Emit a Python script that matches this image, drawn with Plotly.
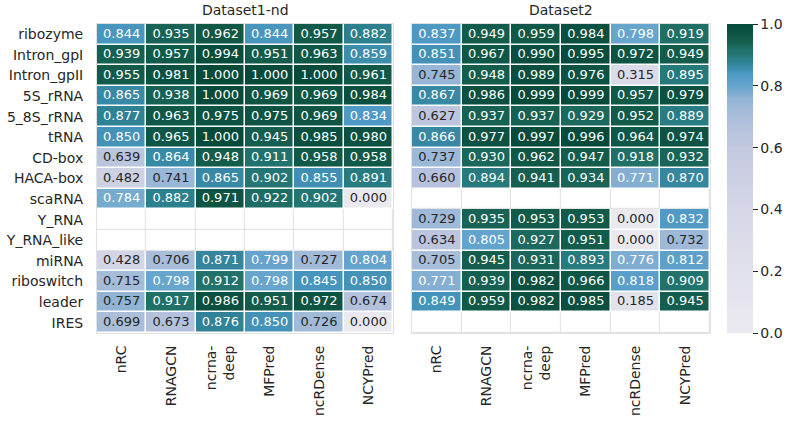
import numpy as np
import plotly.graph_objects as go

families = ["ribozyme", "Intron_gpI", "Intron_gpII", "5S_rRNA", "5_8S_rRNA", "tRNA",
            "CD-box", "HACA-box", "scaRNA", "Y_RNA", "Y_RNA_like", "miRNA",
            "riboswitch", "leader", "IRES"]
models = ["nRC", "RNAGCN", "ncrna-deep", "MFPred", "ncRDense", "NCYPred"]
model_labels = ["nRC", "RNAGCN", "ncrna-<br>deep", "MFPred", "ncRDense", "NCYPred"]
titles = ["Dataset1-nd", "Dataset2"]
N = None

dataset1 = [
    [0.844, 0.935, 0.962, 0.844, 0.957, 0.882],
    [0.939, 0.957, 0.994, 0.951, 0.963, 0.859],
    [0.955, 0.981, 1.000, 1.000, 1.000, 0.961],
    [0.865, 0.938, 1.000, 0.969, 0.969, 0.984],
    [0.877, 0.963, 0.975, 0.975, 0.969, 0.834],
    [0.850, 0.965, 1.000, 0.945, 0.985, 0.980],
    [0.639, 0.864, 0.948, 0.911, 0.958, 0.958],
    [0.482, 0.741, 0.865, 0.902, 0.855, 0.891],
    [0.784, 0.882, 0.971, 0.922, 0.902, 0.000],
    [N, N, N, N, N, N],
    [N, N, N, N, N, N],
    [0.428, 0.706, 0.871, 0.799, 0.727, 0.804],
    [0.715, 0.798, 0.912, 0.798, 0.845, 0.850],
    [0.757, 0.917, 0.986, 0.951, 0.972, 0.674],
    [0.699, 0.673, 0.876, 0.850, 0.726, 0.000],
]
dataset2 = [
    [0.837, 0.949, 0.959, 0.984, 0.798, 0.919],
    [0.851, 0.967, 0.990, 0.995, 0.972, 0.949],
    [0.745, 0.948, 0.989, 0.976, 0.315, 0.895],
    [0.867, 0.986, 0.999, 0.999, 0.957, 0.979],
    [0.627, 0.937, 0.937, 0.929, 0.952, 0.889],
    [0.866, 0.977, 0.997, 0.996, 0.964, 0.974],
    [0.737, 0.930, 0.962, 0.947, 0.918, 0.932],
    [0.660, 0.894, 0.941, 0.934, 0.771, 0.870],
    [N, N, N, N, N, N],
    [0.729, 0.935, 0.953, 0.953, 0.000, 0.832],
    [0.634, 0.805, 0.927, 0.951, 0.000, 0.732],
    [0.705, 0.945, 0.931, 0.893, 0.776, 0.812],
    [0.771, 0.939, 0.982, 0.966, 0.818, 0.909],
    [0.849, 0.959, 0.982, 0.985, 0.185, 0.945],
    [N, N, N, N, N, N],
]

colorscale = [
    [0.00, "#ebe9f0"], [0.20, "#e1e1ec"], [0.40, "#d5d7e7"], [0.50, "#ccd0e3"],
    [0.60, "#c2c9e0"], [0.67, "#b4c1dc"], [0.72, "#a3bbd9"], [0.76, "#90b3d4"],
    [0.78, "#7aabd0"], [0.80, "#66a4cd"], [0.84, "#4b98c3"], [0.86, "#3c8cac"],
    [0.88, "#2d8090"], [0.90, "#247674"], [0.92, "#1f6f66"], [0.94, "#165f50"],
    [0.96, "#105847"], [0.98, "#0b5141"], [1.00, "#064a3a"],
]

FONT = "DejaVu Sans"
TXT = "#262626"
fig = go.Figure()
datasets = [dataset1, dataset2]
for i, data in enumerate(datasets):
    xa = "x" if i == 0 else "x2"
    ya = "y" if i == 0 else "y2"
    arr = np.array([[np.nan if v is None else v for v in row] for row in data], dtype=float)
    isnan = np.isnan(arr)
    base = np.where(isnan, 1.0, 0.0)
    fig.add_trace(go.Heatmap(z=base, x=models, y=families, xaxis=xa, yaxis=ya,
                             colorscale=[[0, "white"], [1, "#e4e4e4"]], zmin=0, zmax=1,
                             showscale=False, hoverinfo="skip"))
    mask = [[1 if n else None for n in row] for row in isnan]
    fig.add_trace(go.Heatmap(z=mask, x=models, y=families, xaxis=xa, yaxis=ya,
                             colorscale=[[0, "white"], [1, "white"]], zmin=0, zmax=1,
                             xgap=1.2, ygap=1.2, showscale=False, hoverinfo="skip"))
    z = [[None if isnan[r][c] else arr[r][c] for c in range(len(models))] for r in range(len(families))]
    fig.add_trace(go.Heatmap(z=z, x=models, y=families, xaxis=xa, yaxis=ya,
                             coloraxis="coloraxis", xgap=1.5, ygap=1.5))
    tx, ty, tt, tc = [], [], [], []
    for r, fam in enumerate(families):
        for c, m in enumerate(models):
            if not isnan[r][c]:
                v = arr[r][c]
                tx.append(m); ty.append(fam); tt.append(f"{v:.3f}")
                tc.append("white" if v >= 0.765 else TXT)
    fig.add_trace(go.Scatter(x=tx, y=ty, text=tt, mode="text", xaxis=xa, yaxis=ya,
                             textfont=dict(family=FONT, size=13, color=tc),
                             hoverinfo="skip", showlegend=False))

xrange = [-0.5, len(models) - 0.5]
yrange = [len(families) - 0.5, -0.5]
x1dom = [97 / 790, 393 / 790]
x2dom = [412 / 790, 710 / 790]
axcommon = dict(type="category", showgrid=False, zeroline=False, showline=True, mirror=True,
                linecolor="#e2e2e2", linewidth=1, ticks="", automargin=False,
                tickfont=dict(family=FONT, size=14, color=TXT))
fig.update_layout(
    width=790, height=422, autosize=False,
    margin=dict(l=0, r=0, t=24, b=89, autoexpand=False),
    paper_bgcolor="white", plot_bgcolor="white",
    showlegend=False,
    font=dict(family=FONT, color=TXT),
    xaxis=dict(domain=x1dom, anchor="y", categoryorder="array", categoryarray=models,
               range=xrange, tickvals=models, ticktext=model_labels, tickangle=-90,
               ticklabelstandoff=6, **axcommon),
    xaxis2=dict(domain=x2dom, anchor="y2", categoryorder="array", categoryarray=models,
                range=xrange, tickvals=models, ticktext=model_labels, tickangle=-90,
                ticklabelstandoff=6, **axcommon),
    yaxis=dict(anchor="x", categoryorder="array", categoryarray=families,
               range=yrange, ticklabelstandoff=10, **axcommon),
    yaxis2=dict(anchor="x2", categoryorder="array", categoryarray=families,
                range=yrange, showticklabels=False, **axcommon),
    coloraxis=dict(colorscale=colorscale, cmin=0, cmax=1,
                   colorbar=dict(x=727 / 790, xanchor="left", xpad=0, ypad=0,
                                 y=0.5, yanchor="middle",
                                 len=1, lenmode="fraction", thickness=26, outlinewidth=0,
                                 ticks="outside", ticklen=5, tickcolor=TXT, tickwidth=1,
                                 tickvals=[0, 0.2, 0.4, 0.6, 0.8, 1.0], tickformat=".1f",
                                 tickfont=dict(family=FONT, size=14, color=TXT))),
)
for dom, t in zip([x1dom, x2dom], titles):
    fig.add_annotation(text=t, x=(dom[0] + dom[1]) / 2, y=1, xref="paper", yref="paper",
                       xanchor="center", yanchor="bottom", yshift=4, showarrow=False,
                       font=dict(family=FONT, size=14, color=TXT))

fig.write_html("out.html", config={"displayModeBar": False})
with open("out.html", "r", encoding="utf-8") as f:
    html = f.read()
html = html.replace("<head>", "<head><style>html,body{margin:0;padding:0;overflow:hidden;}</style>", 1)
with open("out.html", "w", encoding="utf-8") as f:
    f.write(html)
